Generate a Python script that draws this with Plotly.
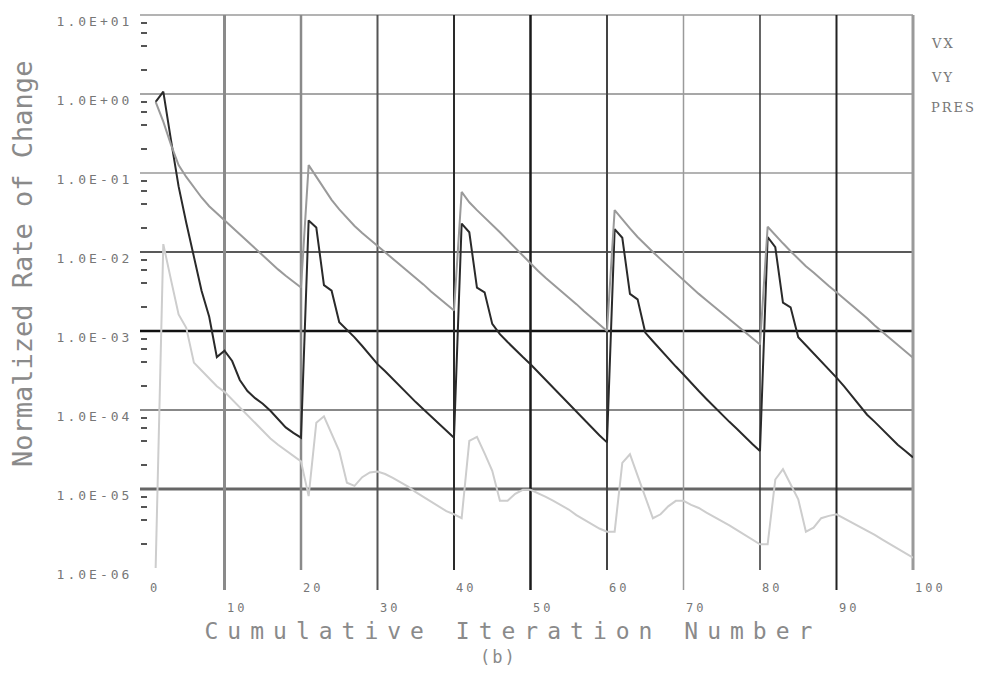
import plotly.graph_objects as go

# ---------------- data (values are log10 of the rate) ----------------
iterations = list(range(1, 101))

vx_exp = [
    -0.10, 0.03, -0.58, -1.17, -1.63, -2.08, -2.49, -2.82, -3.33, -3.25,
    -3.38, -3.62, -3.76, -3.85, -3.92, -4.01, -4.12, -4.22, -4.29, -4.35,
    -1.60, -1.69, -2.42, -2.49, -2.89, -2.98, -3.08, -3.19, -3.30, -3.42,
    -3.51, -3.61, -3.71, -3.80, -3.90, -3.99, -4.08, -4.17, -4.26, -4.35,
    -1.64, -1.75, -2.45, -2.51, -2.91, -3.04, -3.14, -3.24, -3.33, -3.42,
    -3.52, -3.62, -3.72, -3.82, -3.92, -4.03, -4.13, -4.22, -4.32, -4.41,
    -1.71, -1.82, -2.53, -2.60, -3.02, -3.13, -3.24, -3.34, -3.45, -3.55,
    -3.66, -3.76, -3.86, -3.96, -4.06, -4.15, -4.24, -4.34, -4.43, -4.52,
    -1.81, -1.94, -2.64, -2.70, -3.08, -3.18, -3.28, -3.38, -3.48, -3.59,
    -3.70, -3.82, -3.94, -4.06, -4.15, -4.25, -4.35, -4.44, -4.52, -4.60,
]

vy_exp = [
    -0.10, -0.35, -0.64, -0.90, -1.05, -1.18, -1.31, -1.42, -1.51, -1.60,
    -1.69, -1.78, -1.87, -1.96, -2.05, -2.14, -2.22, -2.30, -2.38, -2.45,
    -0.90, -1.05, -1.20, -1.34, -1.46, -1.57, -1.67, -1.76, -1.84, -1.92,
    -2.00, -2.08, -2.16, -2.24, -2.33, -2.41, -2.50, -2.58, -2.66, -2.74,
    -1.24, -1.37, -1.47, -1.56, -1.65, -1.75, -1.85, -1.95, -2.05, -2.15,
    -2.24, -2.33, -2.41, -2.49, -2.58, -2.66, -2.75, -2.83, -2.92, -3.00,
    -1.47, -1.59, -1.70, -1.81, -1.91, -2.00, -2.09, -2.18, -2.27, -2.36,
    -2.45, -2.53, -2.61, -2.69, -2.77, -2.85, -2.93, -3.01, -3.09, -3.17,
    -1.68, -1.79, -1.89, -1.99, -2.09, -2.18, -2.26, -2.35, -2.43, -2.51,
    -2.59, -2.67, -2.76, -2.84, -2.93, -3.01, -3.09, -3.17, -3.26, -3.34,
]

pres_exp = [
    -6.00, -1.90, -2.35, -2.79, -2.96, -3.40, -3.50, -3.60, -3.70, -3.77,
    -3.87, -3.97, -4.07, -4.17, -4.27, -4.36, -4.44, -4.51, -4.58, -4.65,
    -5.09, -4.16, -4.08, -4.30, -4.52, -4.92, -4.96, -4.85, -4.79, -4.78,
    -4.81, -4.86, -4.91, -4.97, -5.04, -5.10, -5.16, -5.22, -5.28, -5.32,
    -5.37, -4.39, -4.34, -4.55, -4.77, -5.15, -5.15, -5.06, -5.01, -5.01,
    -5.05, -5.10, -5.15, -5.20, -5.26, -5.33, -5.39, -5.45, -5.50, -5.54,
    -5.54, -4.67, -4.56, -4.83, -5.10, -5.37, -5.32, -5.22, -5.15, -5.15,
    -5.20, -5.24, -5.30, -5.35, -5.40, -5.46, -5.52, -5.58, -5.64, -5.70,
    -5.70, -4.88, -4.75, -4.95, -5.13, -5.54, -5.49, -5.37, -5.34, -5.32,
    -5.37, -5.42, -5.48, -5.53, -5.58, -5.64, -5.70, -5.76, -5.82, -5.87,
]

series_names = ["VX", "VY", "PRES"]

decade_exps = [1, 0, -1, -2, -3, -4, -5, -6]
decade_text = ["1.0E+01", "1.0E+00", "1.0E-01", "1.0E-02",
               "1.0E-03", "1.0E-04", "1.0E-05", "1.0E-06"]
minor_mantissas = [2, 4, 6, 8]

x_ticks = [0, 10, 20, 30, 40, 50, 60, 70, 80, 90, 100]
x_tick_text = [str(v) for v in x_ticks]

x_title = "Cumulative Iteration Number"
y_title = "Normalized Rate of Change"
caption = "(b)"

# ---------------- styles ----------------
series_colors = ["#2a2a2a", "#9a9a9a", "#cdcdcd"]
series_widths = [2.0, 2.0, 2.0]
# horizontal grid lines at decades 1e1..1e-5 (colour, width)
h_grid_style = [("#9a9a9a", 1.5), ("#8a8a8a", 1.5), ("#9a9a9a", 1.5), ("#222222", 1.5),
                ("#111111", 2.5), ("#888888", 2.0), ("#666666", 3.0)]
# vertical grid lines at 10..100 (colour, width)
v_grid_style = [("#8a8a8a", 3.0), ("#8a8a8a", 2.5), ("#555555", 2.0), ("#2a2a2a", 2.0),
                ("#1a1a1a", 2.5), ("#444444", 2.0), ("#9a9a9a", 1.5), ("#333333", 1.5),
                ("#222222", 2.0), ("#9a9a9a", 3.0)]

MONO = "DejaVu Sans Mono"
TXT = "#777777"

PLOT_W, PLOT_H = 765, 553
ML, MR, MT, MB = 148, 70, 15, 105

# ---------------- figure ----------------
fig = go.Figure()
for name, exps, col, w in zip(series_names, [vx_exp, vy_exp, pres_exp], series_colors, series_widths):
    fig.add_trace(go.Scatter(
        x=iterations, y=[10 ** e for e in exps], mode="lines", name=name,
        line=dict(color=col, width=w), showlegend=False,
    ))

shapes = []
ymin, ymax = min(decade_exps), max(decade_exps)
# horizontal decade lines (extend slightly left of the plot as the major tick)
for e, (col, w) in zip(decade_exps, h_grid_style):
    yp = (e - ymin) / (ymax - ymin)
    shapes.append(dict(type="line", xref="paper", yref="paper", x0=-8 / PLOT_W, x1=1,
                       y0=yp, y1=yp, line=dict(color=col, width=w), layer="below"))
# vertical lines (odd tens extend down to their lower label row)
for i, (v, (col, w)) in enumerate(zip(x_ticks[1:], v_grid_style)):
    xp = (v - x_ticks[0]) / (x_ticks[-1] - x_ticks[0])
    ext = 22 if (i % 2 == 0) else 2
    shapes.append(dict(type="line", xref="paper", yref="paper", x0=xp, x1=xp,
                       y0=-ext / PLOT_H, y1=1, line=dict(color=col, width=w), layer="below"))

annotations = []
for i, (v, t) in enumerate(zip(x_ticks, x_tick_text)):
    ypx = 20 if i % 2 == 0 else 40
    annotations.append(dict(x=v, xref="x", y=-ypx / PLOT_H, yref="paper", text=t,
                            showarrow=False, xanchor="left", yanchor="middle", align="left",
                            font=dict(family=MONO, size=12, color=TXT)))
annotations.append(dict(x=(513 - ML) / PLOT_W, y=-(631 - 568) / PLOT_H, xref="paper", yref="paper",
                        text=x_title, showarrow=False, xanchor="center", yanchor="middle",
                        font=dict(family=MONO, size=23, color="#8a8a8a")))
annotations.append(dict(x=(498 - ML) / PLOT_W, y=-(657 - 568) / PLOT_H, xref="paper", yref="paper",
                        text=caption, showarrow=False, xanchor="center", yanchor="middle",
                        font=dict(family=MONO, size=17, color="#8a8a8a")))
annotations.append(dict(x=(22 - ML) / PLOT_W, y=(568 - 264) / PLOT_H, xref="paper", yref="paper",
                        text=y_title, showarrow=False, textangle=-90, xanchor="center",
                        yanchor="middle", font=dict(family=MONO, size=27, color="#8a8a8a")))
for name, ypx in zip(series_names, [43, 77, 107]):
    annotations.append(dict(x=(929 - ML) / PLOT_W, y=(568 - ypx) / PLOT_H, xref="paper", yref="paper",
                            text=name, showarrow=False, xanchor="left", yanchor="middle", align="left",
                            font=dict(family="DejaVu Serif", size=13, color="#777777")))

fig.update_layout(
    width=983, height=673,
    margin=dict(l=ML, r=MR, t=MT, b=MB, pad=0, autoexpand=False),
    paper_bgcolor="white", plot_bgcolor="white",
    shapes=shapes, annotations=annotations,
    xaxis=dict(range=[x_ticks[0], x_ticks[-1]], showticklabels=False, ticks="",
               showgrid=False, zeroline=False, showline=False, automargin=False),
    yaxis=dict(type="log", range=[ymin, ymax], tickmode="array",
               tickvals=[10 ** e for e in decade_exps], ticktext=decade_text,
               ticks="outside", ticklen=8, tickcolor="rgba(0,0,0,0)",
               tickfont=dict(family=MONO, size=13, color=TXT),
               ticklabelshift=6, ticklabelstandoff=4, automargin=False,
               minor=dict(tickvals=[m * 10 ** e for e in decade_exps[1:] for m in minor_mantissas],
                          ticks="outside", ticklen=6, tickwidth=2, tickcolor="#555555", showgrid=False),
               showgrid=False, zeroline=False, showline=False),
)

post = """
document.body.style.margin = '0';
document.body.style.overflow = 'hidden';
var gd = document.getElementById('{plot_id}');
var sp = {"Cumulative Iteration Number": 9, "(b)": 2, "VX": 2, "VY": 2, "PRES": 2,
          "0":3, "10":3, "20":3, "30":3, "40":3, "50":3, "60":3, "70":3, "80":3, "90":3, "100":3};
gd.querySelectorAll('.annotation-text').forEach(function(t){
  var s = sp[t.textContent]; if (s !== undefined) { t.style.letterSpacing = s + 'px'; }
});
gd.querySelectorAll('.ytick text').forEach(function(t){ t.style.letterSpacing = '3px'; });
"""
fig.write_html("out.html", post_script=post, config={"displayModeBar": False})
